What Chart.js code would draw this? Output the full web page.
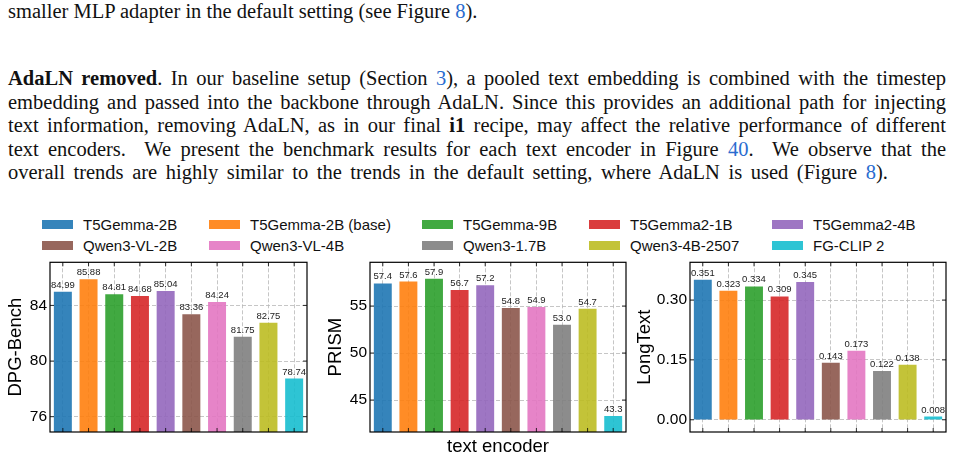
<!DOCTYPE html>
<html>
<head>
<meta charset="utf-8">
<script src="https://cdn.jsdelivr.net/npm/chart.js@4.4.1/dist/chart.umd.min.js"></script>
<style>
  html, body { margin: 0; padding: 0; background: #fff; }
  body { width: 955px; height: 460px; position: relative; overflow: hidden; }
  .txt {
    position: absolute; left: 8px; width: 938px;
    font-family: "Liberation Serif", "DejaVu Serif", serif;
    font-size: 20.5px; line-height: 23.4px; color: #111; white-space: nowrap;
  }
  .just { text-align: justify; text-align-last: justify; }
  .ref { color: #2a6ccf; }
  .lg { position: absolute; font-family: "Liberation Sans", Arial, sans-serif; font-size: 15px; color: #111; white-space: nowrap; }
  .lg i { position: absolute; left: 0; top: -4.5px; width: 31px; height: 9px; }
  .lg span { position: absolute; left: 41px; top: -9px; line-height: 18px; }
  .box { position: absolute; top: 250px; height: 210px; }
</style>
</head>
<body>

<div class="txt" style="top:-0.5px">smaller MLP adapter in the default setting (see Figure <span class="ref">8</span>).</div>

<div class="txt just" style="top:67.4px"><b>AdaLN removed</b>. In our baseline setup (Section <span class="ref">3</span>), a pooled text embedding is combined with the timestep</div>
<div class="txt just" style="top:90.8px">embedding and passed into the backbone through AdaLN. Since this provides an additional path for injecting</div>
<div class="txt just" style="top:114.2px">text information, removing AdaLN, as in our final <b>i1</b> recipe, may affect the relative performance of different</div>
<div class="txt just" style="top:137.6px">text encoders. &nbsp;We present the benchmark results for each text encoder in Figure <span class="ref">40</span>. &nbsp;We observe that the</div>
<div class="txt just" style="top:161px;width:880px">overall trends are highly similar to the trends in the default setting, where AdaLN is used (Figure <span class="ref">8</span>).</div>

<div id="legend"></div>

<div class="box" style="left:0px;width:318px"><canvas id="c1" width="318" height="210"></canvas></div>
<div class="box" style="left:318px;width:315px"><canvas id="c2" width="315" height="210"></canvas></div>
<div class="box" style="left:633px;width:322px"><canvas id="c3" width="322" height="210"></canvas></div>

<script>
// データ
const encoders = ['T5Gemma-2B', 'T5Gemma-2B (base)', 'T5Gemma-9B', 'T5Gemma2-1B', 'T5Gemma2-4B',
                  'Qwen3-VL-2B', 'Qwen3-VL-4B', 'Qwen3-1.7B', 'Qwen3-4B-2507', 'FG-CLIP 2'];
const barColors = ['#1f77b4', '#ff7f0e', '#2ca02c', '#d62728', '#9467bd',
                   '#8c564b', '#e377c2', '#7f7f7f', '#bcbd22', '#17becf'];

const dpgValues = [84.99, 85.88, 84.81, 84.68, 85.04, 83.36, 84.24, 81.75, 82.75, 78.74];
const prismValues = [57.4, 57.6, 57.9, 56.7, 57.2, 54.8, 54.9, 53.0, 54.7, 43.3];
const longTextValues = [0.351, 0.323, 0.334, 0.309, 0.345, 0.143, 0.173, 0.122, 0.138, 0.008];

const dpgTicks = [76, 80, 84];
const prismTicks = [45, 50, 55];
const longTextTicks = [0.00, 0.15, 0.30];

const FONT = '"Liberation Sans", Arial, sans-serif';
Chart.defaults.font.family = FONT;
Chart.defaults.color = '#000';

function hexA(hex, a) {
    const n = parseInt(hex.slice(1), 16);
    return `rgba(${(n >> 16) & 255}, ${(n >> 8) & 255}, ${n & 255}, ${a})`;
}

// 凡例 (5列 x 2行)
const legendCols = [42, 209, 422, 589, 772];
const legendRows = [224.5, 245.5];
const legendEl = document.getElementById('legend');
encoders.forEach((name, i) => {
    const d = document.createElement('div');
    d.className = 'lg';
    d.style.left = legendCols[i % 5] + 'px';
    d.style.top = legendRows[Math.floor(i / 5)] + 'px';
    d.innerHTML = `<i style="background:${hexA(barColors[i], 0.9)}"></i><span>${name}</span>`;
    legendEl.appendChild(d);
});

// 枠・内向きの目盛り・値ラベル
const framePlugin = {
    id: 'frame',
    afterDatasetsDraw(chart, args, opts) {
        const { ctx, chartArea: a, scales } = chart;
        const meta = chart.getDatasetMeta(0);
        ctx.save();
        ctx.font = '9.5px ' + FONT;
        ctx.fillStyle = '#222';
        ctx.textAlign = 'center';
        ctx.textBaseline = 'alphabetic';
        meta.data.forEach((bar, i) => {
            ctx.fillText(opts.labels[i], bar.x, bar.y - 4);
        });
        ctx.setLineDash([]);
        ctx.strokeStyle = '#000';
        ctx.lineWidth = 0.8;
        ctx.beginPath();
        scales.y.ticks.forEach(t => {
            const y = scales.y.getPixelForValue(t.value);
            ctx.moveTo(a.left, y); ctx.lineTo(a.left + 4, y);
            ctx.moveTo(a.right, y); ctx.lineTo(a.right - 4, y);
        });
        scales.x.ticks.forEach((t, i) => {
            const x = scales.x.getPixelForTick(i);
            ctx.moveTo(x, a.bottom); ctx.lineTo(x, a.bottom - 4);
            ctx.moveTo(x, a.top); ctx.lineTo(x, a.top + 4);
        });
        ctx.stroke();
        ctx.lineWidth = 1.2;
        ctx.strokeRect(a.left, a.top, a.right - a.left, a.bottom - a.top);
        ctx.restore();
    }
};

function makeChart(id, values, decimals, yMin, yMax, yTicks, tickDecimals, yTitle, axisW, titlePad, padRight, xTitle) {
    const grid = { color: '#b8b8b8', lineWidth: 0.8, drawTicks: false };
    return new Chart(document.getElementById(id), {
        type: 'bar',
        data: {
            labels: encoders,
            datasets: [{
                data: values,
                backgroundColor: barColors.map(c => hexA(c, 0.9)),
                borderWidth: 0,
                barPercentage: 0.7,
                categoryPercentage: 1.0
            }]
        },
        options: {
            responsive: false,
            animation: false,
            devicePixelRatio: 1,
            layout: { padding: { left: 0, top: 11, right: padRight, bottom: 0 } },
            plugins: {
                legend: { display: false },
                tooltip: { enabled: false },
                frame: { labels: values.map(v => v.toFixed(decimals)) }
            },
            scales: {
                x: {
                    offset: true,
                    grid: { ...grid, offset: false },
                    border: { display: false, dash: [4, 2] },
                    ticks: { display: false },
                    title: {
                        display: !!xTitle, text: xTitle || '', color: '#000',
                        font: { size: 18.5 }, padding: { top: 0, bottom: 2 }
                    },
                    afterFit: s => { s.height = 28; }
                },
                y: {
                    min: yMin,
                    max: yMax,
                    grid: grid,
                    border: { display: false, dash: [4, 2] },
                    afterBuildTicks: s => { s.ticks = yTicks.map(v => ({ value: v })); },
                    ticks: {
                        color: '#000', padding: 3, font: { size: 15.5 },
                        callback: v => Number(v).toFixed(tickDecimals)
                    },
                    title: {
                        display: true, text: yTitle, color: '#000',
                        font: { size: 18.5 }, padding: { top: titlePad, bottom: 0 }
                    },
                    afterFit: s => { s.width = axisW; }
                }
            }
        },
        plugins: [framePlugin]
    });
}

makeChart('c1', dpgValues, 2, 74.9, 87.1, dpgTicks, 0, 'DPG-Bench', 50, 5, 11, null);
makeChart('c2', prismValues, 1, 41.6, 59.65, prismTicks, 0, 'PRISM', 52, 7, 7, 'text encoder');
makeChart('c3', longTextValues, 3, -0.0306, 0.3945, longTextTicks, 2, 'LongText', 57, 1, 9, null);
</script>
</body>
</html>
